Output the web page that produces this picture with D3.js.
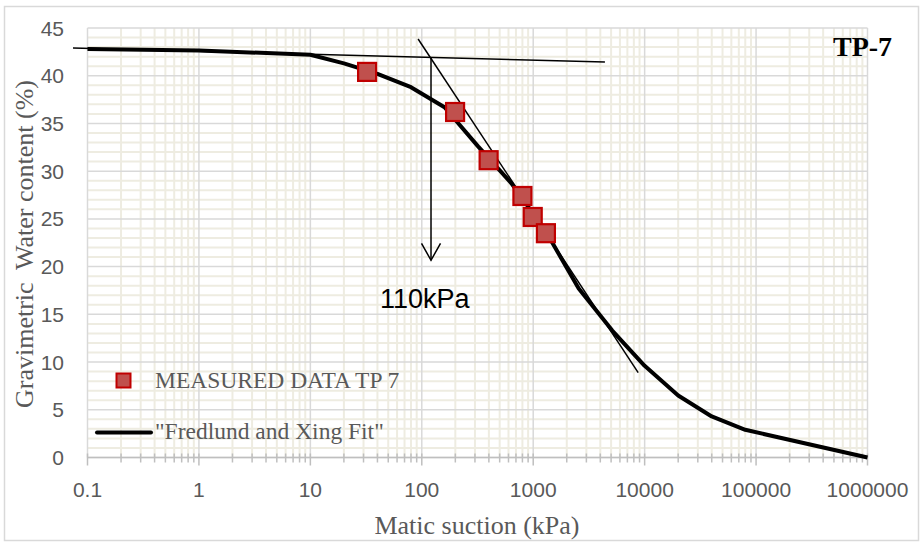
<!DOCTYPE html>
<html><head><meta charset="utf-8">
<script src="https://cdn.jsdelivr.net/npm/d3@7"></script>
<style>html,body{margin:0;padding:0;background:#fff;}svg{display:block;}</style>
</head><body>
<svg id="chart" width="923" height="543"></svg>
<script>
// ---- data ----
const xTicks = [0.1, 1, 10, 100, 1000, 10000, 100000, 1000000];
const xTickLabels = ["0.1", "1", "10", "100", "1000", "10000", "100000", "1000000"];
const yTicks = [0, 5, 10, 15, 20, 25, 30, 35, 40, 45];
const measuredSuction = [32.3, 199, 398, 800, 990, 1300];
const measuredWater = [40.4, 36.2, 31.15, 27.4, 25.2, 23.5];
const fitSuction = [0.1, 1, 10, 20, 40, 80, 160, 320, 640, 1280, 2560, 5120, 10000, 20000, 40000, 80000, 1000000];
const fitWater = [42.8, 42.65, 42.2, 41.3, 40.2, 38.8, 36.7, 32.6, 28.7, 23.8, 17.7, 13.3, 9.6, 6.5, 4.3, 2.9, 0];
const tangentFlat = [[0.0741, 42.9], [4400, 41.43]];
const tangentSteep = [[92.7, 43.85], [8750, 8.9]];
const airEntry = [[121, 41.85], [121, 20.66]];
const airEntryLabel = "110kPa";
const seriesNames = ["MEASURED DATA TP 7", "\"Fredlund and Xing Fit\""];
const chartTitle = "TP-7";
const xTitle = "Matic suction (kPa)";
const yTitle = "Gravimetric  Water content (%)";

// ---- drawing ----
const svg = d3.select("#chart");
const x = d3.scaleLog().domain([0.1, 1000000]).range([87.5, 867.5]);
const y = d3.scaleLinear().domain([0, 45]).range([457.5, 28]);
const grey = "#595959";

svg.append("rect").attr("x", 4.5).attr("y", 6.5).attr("width", 914).attr("height", 534)
  .attr("fill", "#fff").attr("stroke", "#d9d9d9").attr("stroke-width", 1.5);

// minor vertical values
const minorX = [];
for (let e = -1; e < 6; e++) for (let m = 2; m <= 9; m++) minorX.push(m * Math.pow(10, e));
const minorY = d3.range(0, 46).filter(v => v % 5 !== 0);

const g = svg.append("g");
g.selectAll(".mx").data(minorX).join("line")
  .attr("x1", d => x(d)).attr("x2", d => x(d)).attr("y1", y(45)).attr("y2", y(0))
  .attr("stroke", "#eeece1").attr("stroke-width", 2);
g.selectAll(".my").data(minorY).join("line")
  .attr("x1", x(0.1)).attr("x2", x(1e6)).attr("y1", d => y(d)).attr("y2", d => y(d))
  .attr("stroke", "#eeece1").attr("stroke-width", 2);
g.selectAll(".Mx").data(xTicks).join("line")
  .attr("x1", d => x(d)).attr("x2", d => x(d)).attr("y1", y(45)).attr("y2", y(0))
  .attr("stroke", "#d9d9d9").attr("stroke-width", 1.5);
g.selectAll(".My").data(yTicks).join("line")
  .attr("x1", x(0.1)).attr("x2", x(1e6)).attr("y1", d => y(d)).attr("y2", d => y(d))
  .attr("stroke", "#d9d9d9").attr("stroke-width", 1.5);

// x axis ticks
g.append("line").attr("x1", x(0.1)).attr("x2", x(1e6)).attr("y1", y(0)).attr("y2", y(0))
  .attr("stroke", "#bfbfbf").attr("stroke-width", 1.5);
g.selectAll(".tmx").data(minorX).join("line")
  .attr("x1", d => x(d)).attr("x2", d => x(d)).attr("y1", y(0) - 4).attr("y2", y(0) + 5)
  .attr("stroke", "#bfbfbf").attr("stroke-width", 1.5);
g.selectAll(".tMx").data(xTicks).join("line")
  .attr("x1", d => x(d)).attr("x2", d => x(d)).attr("y1", y(0) - 4).attr("y2", y(0) + 8)
  .attr("stroke", "#bfbfbf").attr("stroke-width", 1.5);

// tick labels
svg.selectAll(".xl").data(xTicks).join("text")
  .attr("x", d => x(d)).attr("y", 497).attr("text-anchor", "middle")
  .attr("font-family", "Liberation Sans, Arial, sans-serif").attr("font-size", 21).attr("fill", grey)
  .text((d, i) => xTickLabels[i]);
svg.selectAll(".yl").data(yTicks).join("text")
  .attr("x", 64).attr("y", d => y(d) + 7.5).attr("text-anchor", "end")
  .attr("font-family", "Liberation Sans, Arial, sans-serif").attr("font-size", 21).attr("fill", grey)
  .text(d => d);

// axis titles
svg.append("text").attr("x", 477).attr("y", 534).attr("text-anchor", "middle")
  .attr("font-family", "Liberation Serif, Times New Roman, serif").attr("font-size", 26).attr("fill", grey)
  .text(xTitle);
svg.append("text").attr("transform", "translate(33,244) rotate(-90)").attr("text-anchor", "middle")
  .attr("font-family", "Liberation Serif, Times New Roman, serif").attr("font-size", 26).attr("fill", grey)
  .attr("xml:space", "preserve").style("white-space", "pre")
  .text(yTitle);

// fit curve
const line = d3.line().x(d => x(d[0])).y(d => y(d[1]));
svg.append("path").datum(fitSuction.map((s, i) => [s, fitWater[i]]))
  .attr("d", line).attr("fill", "none").attr("stroke", "#000").attr("stroke-width", 4)
  .attr("stroke-linejoin", "round");

// tangent lines
svg.append("path").datum(tangentFlat).attr("d", line).attr("stroke", "#000").attr("stroke-width", 1.5).attr("fill", "none");
svg.append("path").datum(tangentSteep).attr("d", line).attr("stroke", "#000").attr("stroke-width", 1.5).attr("fill", "none");
svg.append("path").datum(airEntry).attr("d", line).attr("stroke", "#000").attr("stroke-width", 1.5).attr("fill", "none");
const tipX = x(airEntry[1][0]), tipY = y(airEntry[1][1]);
svg.append("path").attr("d", `M${tipX - 9.5},${tipY - 17}L${tipX},${tipY}L${tipX + 9.5},${tipY - 17}`)
  .attr("stroke", "#000").attr("stroke-width", 1.5).attr("fill", "none");
svg.append("text").attr("x", 380).attr("y", 308)
  .attr("font-family", "Liberation Sans, Arial, sans-serif").attr("font-size", 27).attr("fill", "#000")
  .text(airEntryLabel);

// measured points
svg.selectAll(".pt").data(measuredSuction).join("rect")
  .attr("x", d => x(d) - 9).attr("y", (d, i) => y(measuredWater[i]) - 9)
  .attr("width", 18).attr("height", 18)
  .attr("fill", "#c0504d").attr("stroke", "#c00000").attr("stroke-width", 2.2);

// title
svg.append("text").attr("x", 833).attr("y", 56)
  .attr("font-family", "Liberation Serif, Times New Roman, serif").attr("font-weight", "bold")
  .attr("font-size", 28).attr("fill", "#000").text(chartTitle);

// legend
svg.append("rect").attr("x", 116.5).attr("y", 373.5).attr("width", 14).attr("height", 14)
  .attr("fill", "#c0504d").attr("stroke", "#c00000").attr("stroke-width", 2);
svg.append("line").attr("x1", 97).attr("x2", 151).attr("y1", 432.5).attr("y2", 432.5)
  .attr("stroke", "#000").attr("stroke-width", 4).attr("stroke-linecap", "round");
svg.append("text").attr("x", 155).attr("y", 388)
  .attr("font-family", "Liberation Serif, Times New Roman, serif").attr("font-size", 23.5).attr("fill", grey)
  .text(seriesNames[0]);
svg.append("text").attr("x", 155).attr("y", 439)
  .attr("font-family", "Liberation Serif, Times New Roman, serif").attr("font-size", 23.5).attr("fill", grey)
  .text(seriesNames[1]);
</script>
</body></html>
